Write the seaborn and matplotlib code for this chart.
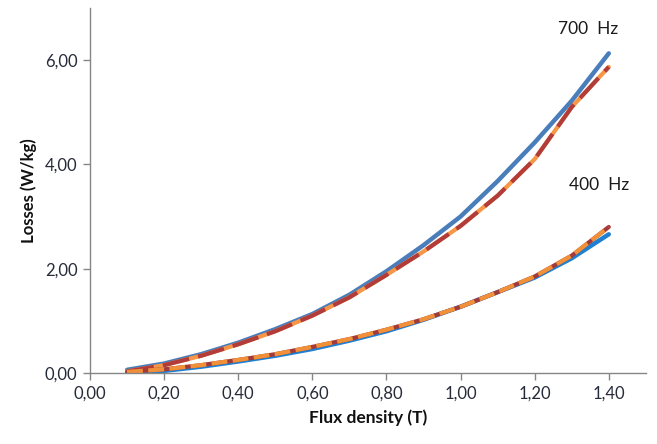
import matplotlib
matplotlib.use("Agg")
import matplotlib.pyplot as plt
import seaborn as sns

# Flux density (T)
flux = [0.1, 0.2, 0.3, 0.4, 0.5, 0.6, 0.7, 0.8, 0.9, 1.0, 1.1, 1.2, 1.3, 1.4]

# Losses (W/kg)
meas_700 = [0.06, 0.18, 0.36, 0.58, 0.84, 1.13, 1.50, 1.95, 2.45, 3.00, 3.68, 4.42, 5.22, 6.13]
model_a_700 = [0.03, 0.15, 0.33, 0.55, 0.80, 1.10, 1.45, 1.88, 2.33, 2.82, 3.40, 4.10, 5.10, 5.87]
model_b_700 = model_a_700
meas_400 = [0.00, 0.04, 0.12, 0.22, 0.33, 0.46, 0.62, 0.80, 1.02, 1.27, 1.55, 1.83, 2.20, 2.66]
model_a_400 = [0.02, 0.07, 0.15, 0.25, 0.36, 0.50, 0.65, 0.83, 1.03, 1.27, 1.55, 1.85, 2.25, 2.80]
model_b_400 = model_a_400

x_ticks = [0.0, 0.2, 0.4, 0.6, 0.8, 1.0, 1.2, 1.4]
x_tick_labels = ["0,00", "0,20", "0,40", "0,60", "0,80", "1,00", "1,20", "1,40"]
y_ticks = [0, 2, 4, 6]
y_tick_labels = ["0,00", "2,00", "4,00", "6,00"]

sns.set_theme(style="white")
plt.rcParams["font.family"] = ["Lato", "DejaVu Sans"]

fig = plt.figure(figsize=(6.57, 4.44), dpi=100)
ax = fig.add_axes([0.137, 0.16, 0.846, 0.822])

# 700 Hz curves
sns.lineplot(x=flux, y=meas_700, ax=ax, color="#4a7ebb", lw=3.2, solid_capstyle="round")
sns.lineplot(x=flux, y=model_b_700, ax=ax, color="#f79646", lw=3.0)
sns.lineplot(x=flux, y=model_a_700, ax=ax, color="#b23c3a", lw=3.0, dashes=(6.5, 2.2))

# 400 Hz curves
sns.lineplot(x=flux, y=meas_400, ax=ax, color="#1f7fd0", lw=3.2, solid_capstyle="round")
sns.lineplot(x=flux, y=model_b_400, ax=ax, color="#a33a3a", lw=3.0)
sns.lineplot(x=flux, y=model_a_400, ax=ax, color="#f0913a", lw=3.0, dashes=(3.8, 1.3))

ax.text(1.345, 6.6, "700  Hz", fontsize=12.5, color="#1a1a1a", ha="center", va="center")
ax.text(1.375, 3.6, "400  Hz", fontsize=12.5, color="#1a1a1a", ha="center", va="center")

ax.set_xlim(0, 1.5)
ax.set_ylim(0, 7)
ax.set_xticks(x_ticks)
ax.set_xticklabels(x_tick_labels)
ax.set_yticks(y_ticks)
ax.set_yticklabels(y_tick_labels)
ax.tick_params(axis="both", which="major", direction="out", length=5, width=1,
               color="#868686", labelsize=12, labelcolor="#262b3a", pad=4)
ax.tick_params(bottom=True, left=True)

for side in ("top", "right"):
    ax.spines[side].set_visible(False)
for side in ("left", "bottom"):
    ax.spines[side].set_color("#868686")
    ax.spines[side].set_linewidth(1)

ax.set_xlabel("Flux density (T)", fontsize=12.5, fontweight="bold", color="#111111", labelpad=6)
ax.set_ylabel("Losses (W/kg)", fontsize=12, fontweight="bold", color="#111111", labelpad=6)

fig.savefig("out.png", dpi=100)
